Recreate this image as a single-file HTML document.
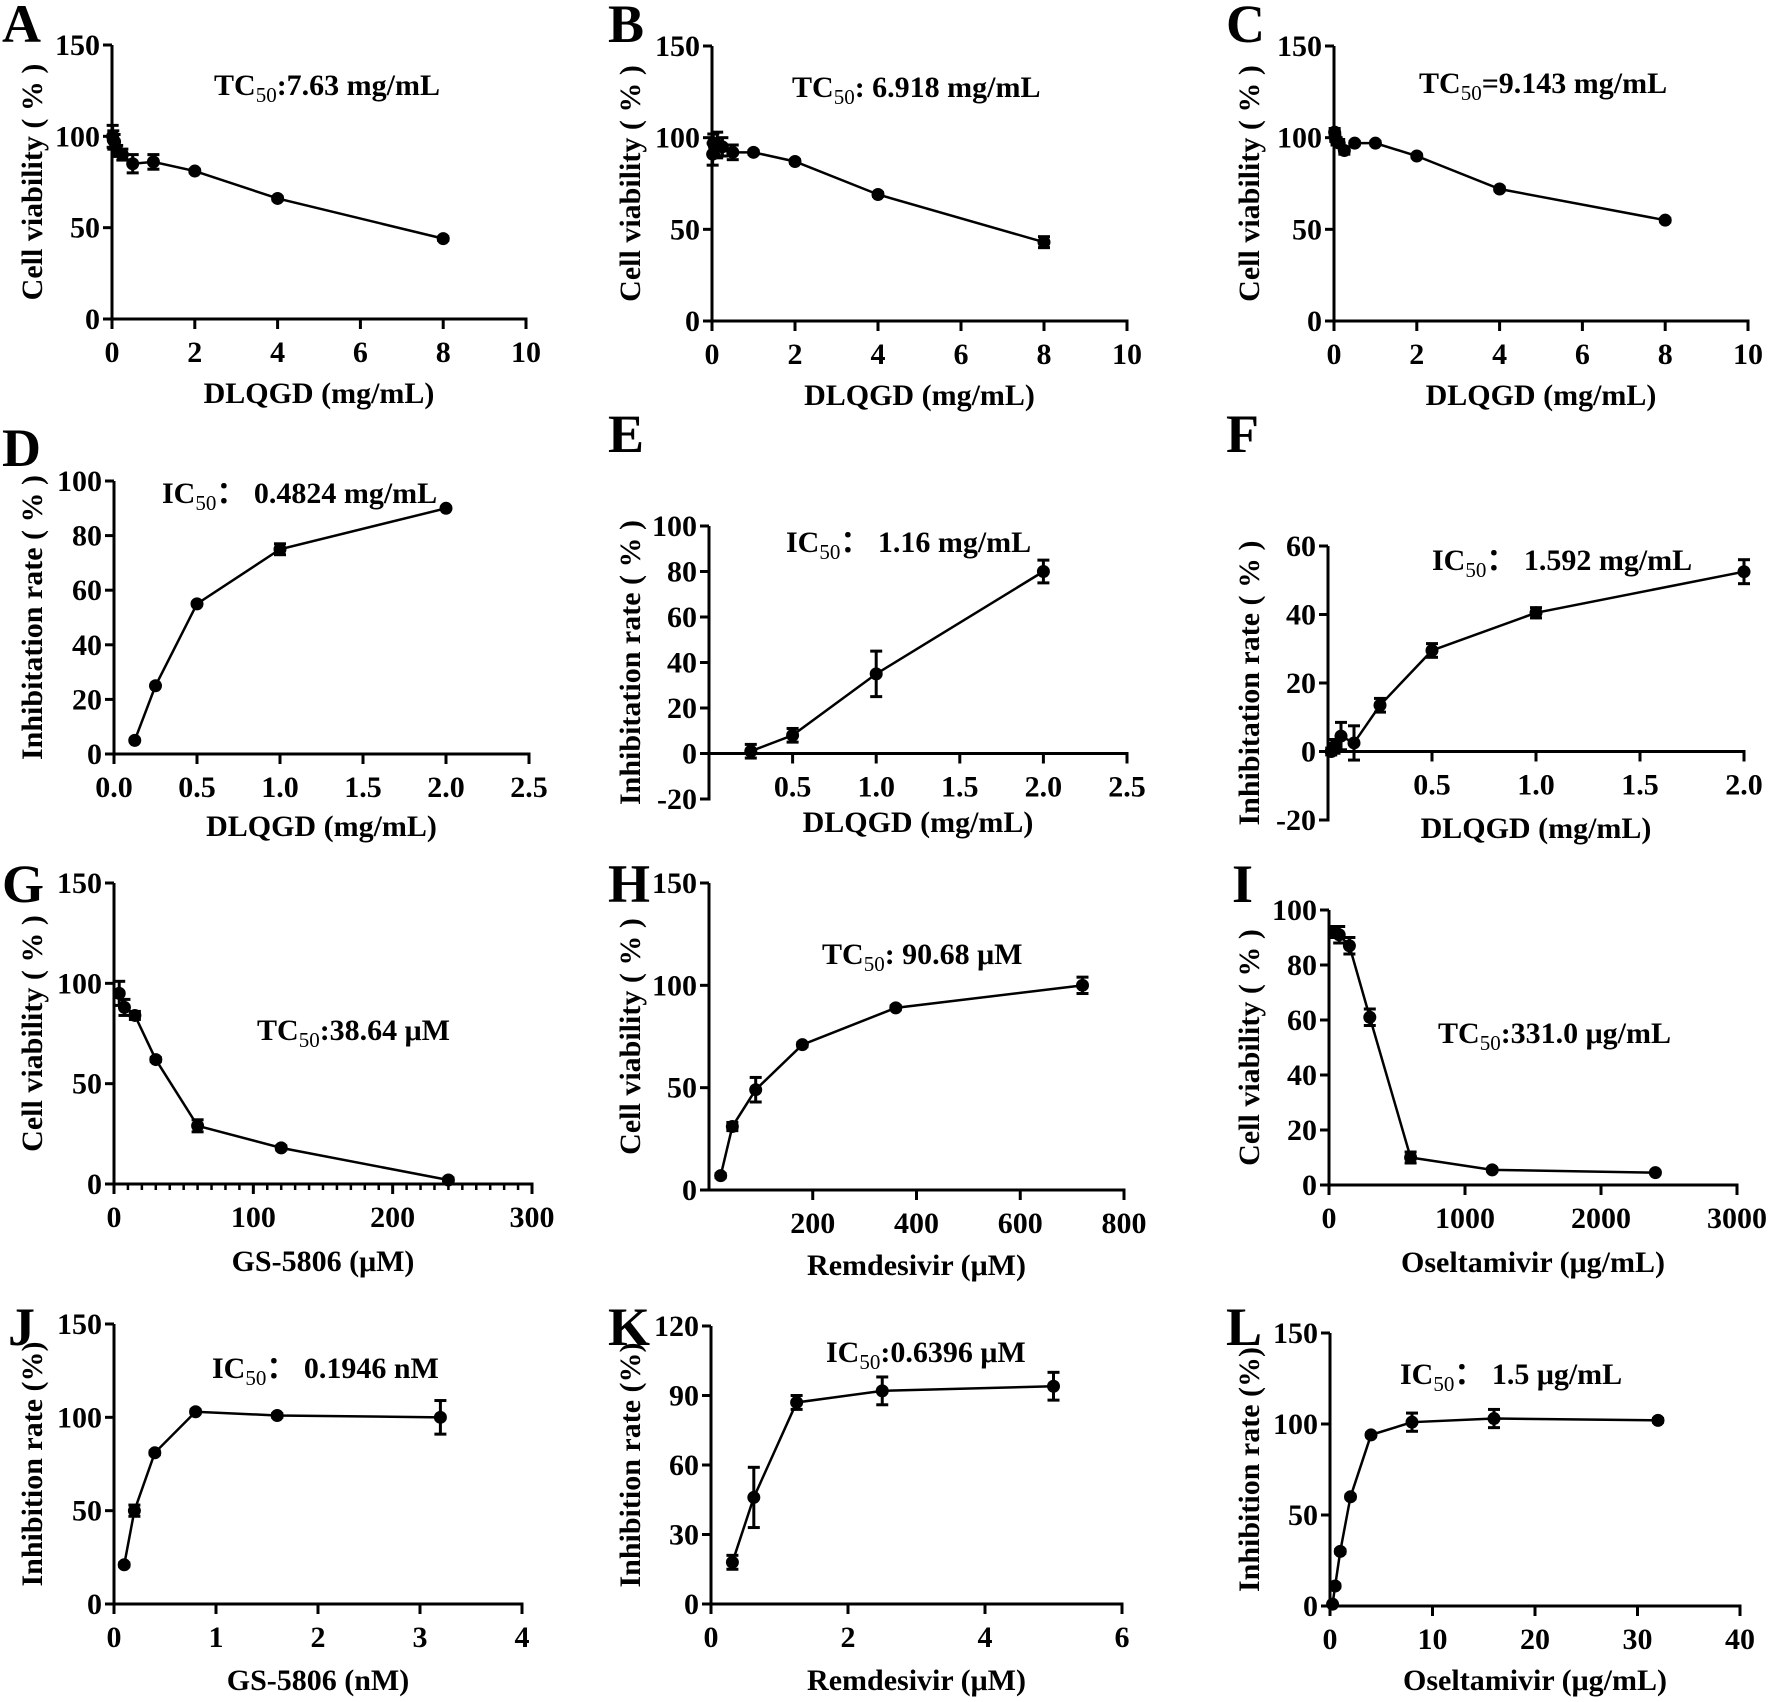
<!DOCTYPE html>
<html><head><meta charset="utf-8">
<style>
html,body{margin:0;padding:0;background:#fff;}
svg{display:block;}
text{font-family:"Liberation Serif",serif;font-weight:bold;fill:#000;}
</style></head>
<body>
<svg id="fig" width="1772" height="1702" viewBox="0 0 1772 1702" xmlns="http://www.w3.org/2000/svg"></svg>
<script>
// ---- data arrays ----
const xA=[0.0156,0.03125,0.0625,0.125,0.25,0.5,1,2,4,8];
const yA=[100,98,97,92,90,85,86,81,66,44];
const eA=[6,5,4,3,3,5,4,1,1,1];
const xB=[0.0156,0.03125,0.0625,0.125,0.25,0.5,1,2,4,8];
const yB=[91,97,95,96,95,92,92,87,69,43];
const eB=[6,5,4,7,5,4,1,1,1,3];
const xC=[0.0156,0.03125,0.0625,0.125,0.25,0.5,1,2,4,8];
const yC=[103,100,98,97,93,97,97,90,72,55];
const eC=[2,2,2,2,2,1,1,1,1,1];
const xD=[0.125,0.25,0.5,1,2];
const yD=[5,25,55,75,90];
const eD=[0,0,0,2,0];
const xE=[0.25,0.5,1,2];
const yE=[1,8,35,80];
const eE=[3,3,10,5];
const xF=[0.0156,0.03125,0.0625,0.125,0.25,0.5,1,2];
const yF=[0,1.5,4.5,2.5,13.5,29.5,40.5,52.5];
const eF=[1,2,4,5,2,2,1.5,3.5];
const xG=[3.75,7.5,15,30,60,120,240];
const yG=[95,88,84,62,29,18,2];
const eG=[6,4,2,1,3,1,1];
const xH=[22.5,45,90,180,360,720];
const yH=[7,31,49,71,89,100];
const eH=[1,2,6,1,1,4];
const xI=[37.5,75,150,300,600,1200,2400];
const yI=[92,91,87,61,10,5.5,4.5];
const eI=[2,3,3,3,2,0.5,0.5];
const xJ=[0.1,0.2,0.4,0.8,1.6,3.2];
const yJ=[21,50,81,103,101,100];
const eJ=[1,3,1,1,1,9];
const xK=[0.3125,0.625,1.25,2.5,5];
const yK=[18,46,87,92,94];
const eK=[3,13,3,6,6];
const xL=[0.25,0.5,1,2,4,8,16,32];
const yL=[1,11,30,60,94,101,103,102];
const eL=[0,1,1,1,1,5,5,1];

const xtA=[0,2,4,6,8,10], ytA=[0,50,100,150];
const xtD=[0,0.5,1,1.5,2,2.5], xtlD=["0.0","0.5","1.0","1.5","2.0","2.5"], ytD=[0,20,40,60,80,100];
const xtE=[0.5,1,1.5,2,2.5], xtlE=["0.5","1.0","1.5","2.0","2.5"], ytE=[-20,0,20,40,60,80,100];
const xtF=[0.5,1,1.5,2], xtlF=["0.5","1.0","1.5","2.0"], ytF=[-20,0,20,40,60];
const xtG=[0,100,200,300], ytG=[0,50,100,150];
const xtH=[200,400,600,800], ytH=[0,50,100,150];
const xtI=[0,1000,2000,3000], ytI=[0,20,40,60,80,100];
const xtJ=[0,1,2,3,4], ytJ=[0,50,100,150];
const xtK=[0,2,4,6], ytK=[0,30,60,90,120];
const xtL=[0,10,20,30,40], ytL=[0,50,100,150];

const NS="http://www.w3.org/2000/svg";
const svg=document.getElementById('fig');
function mk(tag,attrs,parent){const e=document.createElementNS(NS,tag);for(const k in attrs)e.setAttribute(k,attrs[k]);(parent||svg).appendChild(e);return e;}

const CV="Cell viability ( % )", IR="Inhibitation rate ( % )", IH="Inhibition rate (%)";
const panels=[
 {id:'a',L:'A',lx:2,ly:42,x0:112,x1:526,y0:319,y1:45,xmin:0,xmax:10,ymin:0,ymax:150,xt:xtA,yt:ytA,xs:xA,ys:yA,es:eA,xl:"DLQGD (mg/mL)",yl:CV,yc:42,xly:403,ann:["TC","50",":7.63 mg/mL"],ax:214,ay:95},
 {id:'b',L:'B',lx:608,ly:42,x0:712,x1:1127,y0:321,y1:46,xmin:0,xmax:10,ymin:0,ymax:150,xt:xtA,yt:ytA,xs:xB,ys:yB,es:eB,xl:"DLQGD (mg/mL)",yl:CV,yc:640,xly:405,ann:["TC","50",": 6.918 mg/mL"],ax:792,ay:97},
 {id:'c',L:'C',lx:1226,ly:42,x0:1334,x1:1748,y0:321,y1:46,xmin:0,xmax:10,ymin:0,ymax:150,xt:xtA,yt:ytA,xs:xC,ys:yC,es:eC,xl:"DLQGD (mg/mL)",yl:CV,yc:1259,xly:405,ann:["TC","50","=9.143 mg/mL"],ax:1419,ay:93},
 {id:'d',L:'D',lx:2,ly:466,x0:114,x1:529,y0:754,y1:481,xmin:0,xmax:2.5,ymin:0,ymax:100,xt:xtD,xtl:xtlD,yt:ytD,xs:xD,ys:yD,es:eD,xl:"DLQGD (mg/mL)",yl:IR,yc:42,xly:836,ann:["IC","50","\uff1a 0.4824 mg/mL"],ax:162,ay:503},
 {id:'e',L:'E',lx:608,ly:452,x0:709,x1:1127,y0:799,y1:526,xmin:0,xmax:2.5,ymin:-20,ymax:100,xt:xtE,xtl:xtlE,yt:ytE,xs:xE,ys:yE,es:eE,xl:"DLQGD (mg/mL)",yl:IR,yc:640,xly:832,ann:["IC","50","\uff1a 1.16 mg/mL"],ax:786,ay:552},
 {id:'f',L:'F',lx:1226,ly:452,x0:1328,x1:1744,y0:820,y1:546,xmin:0,xmax:2,ymin:-20,ymax:60,xt:xtF,xtl:xtlF,yt:ytF,xs:xF,ys:yF,es:eF,xl:"DLQGD (mg/mL)",yl:IR,yc:1259,xly:838,ann:["IC","50","\uff1a 1.592 mg/mL"],ax:1432,ay:570},
 {id:'g',L:'G',lx:2,ly:902,x0:114,x1:532,y0:1184,y1:883,xmin:0,xmax:300,ymin:0,ymax:150,xt:xtG,yt:ytG,minor:10,xs:xG,ys:yG,es:eG,xl:"GS-5806 (\u03bcM)",yl:CV,yc:42,xly:1271,ann:["TC","50",":38.64 \u03bcM"],ax:257,ay:1040},
 {id:'h',L:'H',lx:608,ly:902,x0:709,x1:1124,y0:1190,y1:883,xmin:0,xmax:800,ymin:0,ymax:150,xt:xtH,yt:ytH,xs:xH,ys:yH,es:eH,xl:"Remdesivir  (\u03bcM)",yl:CV,yc:640,xly:1275,ann:["TC","50",": 90.68 \u03bcM"],ax:822,ay:964},
 {id:'i',L:'I',lx:1232,ly:902,x0:1329,x1:1737,y0:1185,y1:910,xmin:0,xmax:3000,ymin:0,ymax:100,xt:xtI,yt:ytI,xs:xI,ys:yI,es:eI,xl:"Oseltamivir (\u03bcg/mL)",yl:CV,yc:1259,xly:1272,ann:["TC","50",":331.0 \u03bcg/mL"],ax:1438,ay:1043},
 {id:'j',L:'J',lx:8,ly:1345,x0:114,x1:522,y0:1604,y1:1324,xmin:0,xmax:4,ymin:0,ymax:150,xt:xtJ,yt:ytJ,xs:xJ,ys:yJ,es:eJ,xl:"GS-5806 (nM)",yl:IH,yc:42,xly:1690,ann:["IC","50","\uff1a 0.1946 nM"],ax:212,ay:1378},
 {id:'k',L:'K',lx:608,ly:1345,x0:711,x1:1122,y0:1604,y1:1326,xmin:0,xmax:6,ymin:0,ymax:120,xt:xtK,yt:ytK,xs:xK,ys:yK,es:eK,xl:"Remdesivir  (\u03bcM)",yl:IH,yc:640,xly:1690,ann:["IC","50",":0.6396 \u03bcM"],ax:826,ay:1362},
 {id:'l',L:'L',lx:1226,ly:1345,x0:1330,x1:1740,y0:1606,y1:1333,xmin:0,xmax:40,ymin:0,ymax:150,xt:xtL,yt:ytL,xs:xL,ys:yL,es:eL,xl:"Oseltamivir  (\u03bcg/mL)",yl:IH,yc:1259,xly:1690,ann:["IC","50","\uff1a 1.5 \u03bcg/mL"],ax:1400,ay:1384}
];

panels.forEach(p=>{
 const g=mk('g',{});
 
 
 const sx=v=>p.x0+(v-p.xmin)/(p.xmax-p.xmin)*(p.x1-p.x0);
 const sy=v=>p.y0+(v-p.ymin)/(p.ymax-p.ymin)*(p.y1-p.y0);
 const xAxisY=sy(Math.max(0,p.ymin));
 const lt=mk('text',{x:p.lx,y:p.ly,'font-size':54},g);lt.textContent=p.L;
 
 
 const ya=mk('line',{x1:p.x0,y1:p.y0+1.5,x2:p.x0,y2:p.y1,stroke:'#000','stroke-width':3},g);
 
 
 p.yt.forEach(v=>{
  mk('line',{x1:p.x0-9,y1:sy(v),x2:p.x0,y2:sy(v),stroke:'#000','stroke-width':3},g);
  const t=mk('text',{x:p.x0-12,y:sy(v)+10,'font-size':30,'text-anchor':'end'},g);t.textContent=v;
  
  
 });
 const xa=mk('line',{x1:p.x0-1.5,y1:xAxisY,x2:p.x1+1.5,y2:xAxisY,stroke:'#000','stroke-width':3},g);
 
 
 if(p.minor){
  for(let v=p.xmin;v<=p.xmax;v+=p.minor){
   mk('line',{x1:sx(v),y1:xAxisY,x2:sx(v),y2:xAxisY+6,stroke:'#000','stroke-width':2.5},g);
  }
 }
 p.xt.forEach((v,i)=>{
  mk('line',{x1:sx(v),y1:xAxisY,x2:sx(v),y2:xAxisY+10,stroke:'#000','stroke-width':3},g);
  const t=mk('text',{x:sx(v),y:xAxisY+43,'font-size':30,'text-anchor':'middle'},g);
  t.textContent=p.xtl?p.xtl[i]:v;
  
  
 });
 const xt=mk('text',{x:(p.x0+p.x1)/2,y:p.xly,'font-size':30,'text-anchor':'middle'},g);xt.textContent=p.xl;
 
 
 const ym=(p.y0+p.y1)/2;
 const yt=mk('text',{x:p.yc,y:ym,'font-size':30,'text-anchor':'middle',transform:'rotate(-90 '+p.yc+' '+ym+')'},g);yt.textContent=p.yl;
 
 
 const an=mk('text',{x:p.ax,y:p.ay,'font-size':30},g);
 
 
 const s1=mk('tspan',{},an);s1.textContent=p.ann[0];
 const s2=mk('tspan',{dy:7,'font-size':21,'font-weight':'normal'},an);s2.textContent=p.ann[1];
 const s3=mk('tspan',{dy:-7},an);s3.textContent=p.ann[2];
 const pts=p.xs.map((x,i)=>sx(x)+','+sy(p.ys[i])).join(' ');
 const pl=mk('polyline',{points:pts,fill:'none',stroke:'#000','stroke-width':2.5},g);
 
 
 p.xs.forEach((x,i)=>{
  const cx=sx(x),cy=sy(p.ys[i]),e=p.es[i];
  if(e>0){
   const a=sy(p.ys[i]+e),b=sy(p.ys[i]-e);
   mk('line',{x1:cx,y1:a,x2:cx,y2:b,stroke:'#000','stroke-width':3},g);
   mk('line',{x1:cx-6,y1:a,x2:cx+6,y2:a,stroke:'#000','stroke-width':3},g);
   mk('line',{x1:cx-6,y1:b,x2:cx+6,y2:b,stroke:'#000','stroke-width':3},g);
  }
  const c=mk('circle',{cx:cx,cy:cy,r:6.5,fill:'#000'},g);
  
  
 });
});
</script>
</body></html>
